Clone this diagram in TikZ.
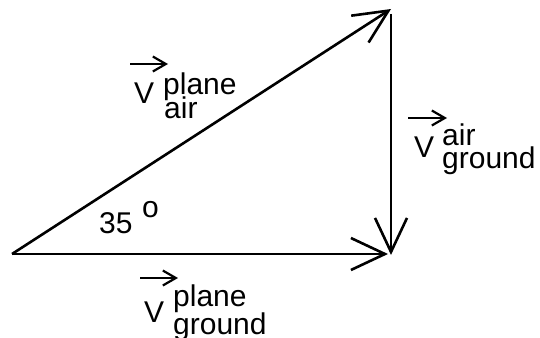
\documentclass[tikz,border=0pt]{standalone}
\usepackage{fontspec}
\setmainfont{Liberation Sans}
\usetikzlibrary{arrows.meta}
\begin{document}
\begin{tikzpicture}[x=1pt,y=-1pt,
  vec/.style={line width=2.6pt,-{Straight Barb[length=34pt,width=32pt]}},
  small/.style={line width=2.2pt,-{Straight Barb[length=13pt,width=15pt]}},
  lbl/.style={inner sep=0pt,anchor=base west,font=\fontsize{30}{30}\selectfont}]
\useasboundingbox (0,0) rectangle (540,337);
\coordinate (A) at (12,254);
\coordinate (C) at (391,9);
\coordinate (Ct) at (391,14);
\coordinate (B) at (391,255);
\coordinate (Bh) at (388,254);
\draw[vec] (A) -- (C);
\draw[vec] (Ct) -- (B);
\draw[vec] (A) -- (Bh);
% label hypotenuse
\node[lbl] (v1) at (134,103) {V};
\node[lbl] (v1p) at (163,94) {plane};
\node[lbl] (v1s) at (164,118) {air};
\coordinate (a1s) at (130,64);
\coordinate (a1e) at (168,64);
\draw[small] (a1s) -- (a1e);
% label vertical
\node[lbl] (v2) at (414,157) {V};
\node[lbl] (v2p) at (442,145) {air};
\node[lbl] (v2s) at (442,168) {ground};
\coordinate (a2s) at (408,118);
\coordinate (a2e) at (447,118);
\draw[small] (a2s) -- (a2e);
% label bottom
\node[lbl] (v3) at (144,322) {V};
\node[lbl] (v3p) at (173,306) {plane};
\node[lbl] (v3s) at (173,334) {ground};
\coordinate (a3s) at (140,278);
\coordinate (a3e) at (178,278);
\draw[small] (a3s) -- (a3e);
% angle
\node[lbl] (ang) at (99,233) {35};
\node[lbl] (deg) at (142,217) {o};
\end{tikzpicture}
\end{document}
